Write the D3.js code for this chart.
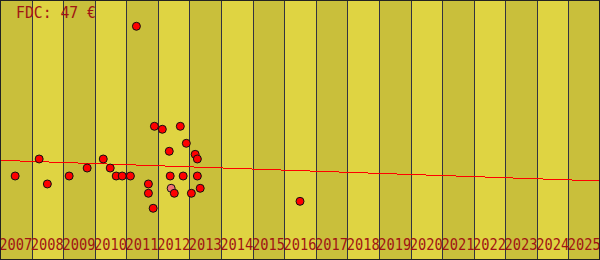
<!DOCTYPE html>
<html>
<head>
<meta charset="utf-8">
<script src="https://cdn.jsdelivr.net/npm/d3@7"></script>
<style>
  html, body { margin: 0; padding: 0; background: #fff; }
  svg { display: block; }
</style>
</head>
<body>
<svg id="chart" width="600" height="260"></svg>
<script>
// ---- data ----
const years = [2007,2008,2009,2010,2011,2012,2013,2014,2015,2016,2017,2018,2019,2020,2021,2022,2023,2024,2025];
const saleDates = [2007.48,2008.24,2008.50,2009.19,2009.76,2010.27,2010.49,2010.68,2010.87,2011.13,
                   2011.32,2011.70,2011.70,2011.85,2011.89,2012.14,2012.36,2012.39,2012.42,2012.52,
                   2012.71,2012.80,2012.90,2013.06,2013.18,2013.25,2013.25,2013.34,2016.50];
const salePrices = [10.12,12.17,9.16,10.12,11.08,12.17,11.08,10.12,10.12,10.12,
                    28.16,9.16,8.04,6.23,16.11,15.75,13.10,10.12,8.64,8.04,
                    16.11,10.12,14.06,8.04,12.73,12.17,10.12,8.64,7.07];
const saleHighlight = [0,0,0,0,0,0,0,0,0,0, 0,0,0,0,0,0,0,0,1,0, 0,0,0,0,0,0,0,0,0];
const trendYears = [2007, 2026];
const trendValues = [12.01, 9.52];
const fdcLabel = "FDC: 47 €";

// ---- chart ----
const W = 600, H = 260;
const svg = d3.select("#chart");
const x = d3.scaleLinear().domain([2007, 2026]).range([0, W]);
const y = d3.scaleLinear().domain([0, 31.325]).range([H, 0]);

// bands
svg.append("g").selectAll("rect").data(years).join("rect")
  .attr("x", d => x(d)).attr("y", 0)
  .attr("width", d => x(d + 1) - x(d)).attr("height", H)
  .attr("fill", (d, i) => i % 2 === 0 ? "#c9bf3b" : "#dfd442")
  .attr("shape-rendering", "crispEdges");

// separators
svg.append("g").selectAll("line").data(years.slice(1)).join("line")
  .attr("x1", d => Math.round(x(d)) + 0.5).attr("x2", d => Math.round(x(d)) + 0.5)
  .attr("y1", 0).attr("y2", H)
  .attr("stroke", "#333340").attr("stroke-width", 1)
  .attr("shape-rendering", "crispEdges");

// trend line
svg.append("line")
  .attr("x1", x(trendYears[0])).attr("y1", y(trendValues[0]))
  .attr("x2", x(trendYears[1])).attr("y2", y(trendValues[1]))
  .attr("stroke", "#ff0000").attr("stroke-width", 1)
  .attr("shape-rendering", "crispEdges");

// points
const pts = saleDates.map((d, i) => ({ d, v: salePrices[i], h: saleHighlight[i] }));
svg.append("g").selectAll("circle").data(pts).join("circle")
  .attr("cx", p => x(p.d)).attr("cy", p => y(p.v)).attr("r", 4)
  .attr("fill", p => p.h ? "#f07474" : "#ff0000")
  .attr("stroke", "#111").attr("stroke-width", 1);

// year labels
svg.append("g").selectAll("text").data(years).join("text")
  .attr("x", d => x(d + 0.5)).attr("y", 250)
  .attr("text-anchor", "middle")
  .attr("font-family", "DejaVu Sans Mono, monospace")
  .attr("font-size", 16)
  .attr("textLength", 33).attr("lengthAdjust", "spacingAndGlyphs")
  .attr("fill", "#a01414")
  .text(d => d);

// title
svg.append("text")
  .attr("x", 16).attr("y", 17.5)
  .attr("font-family", "DejaVu Sans Mono, monospace")
  .attr("font-size", 16)
  .attr("textLength", 80).attr("lengthAdjust", "spacingAndGlyphs")
  .attr("fill", "#a01414")
  .text(fdcLabel);

// border
svg.append("rect").attr("x", 0.5).attr("y", 0.5).attr("width", W - 1).attr("height", H - 1)
  .attr("fill", "none").attr("stroke", "#222").attr("stroke-width", 1);
</script>
</body>
</html>
